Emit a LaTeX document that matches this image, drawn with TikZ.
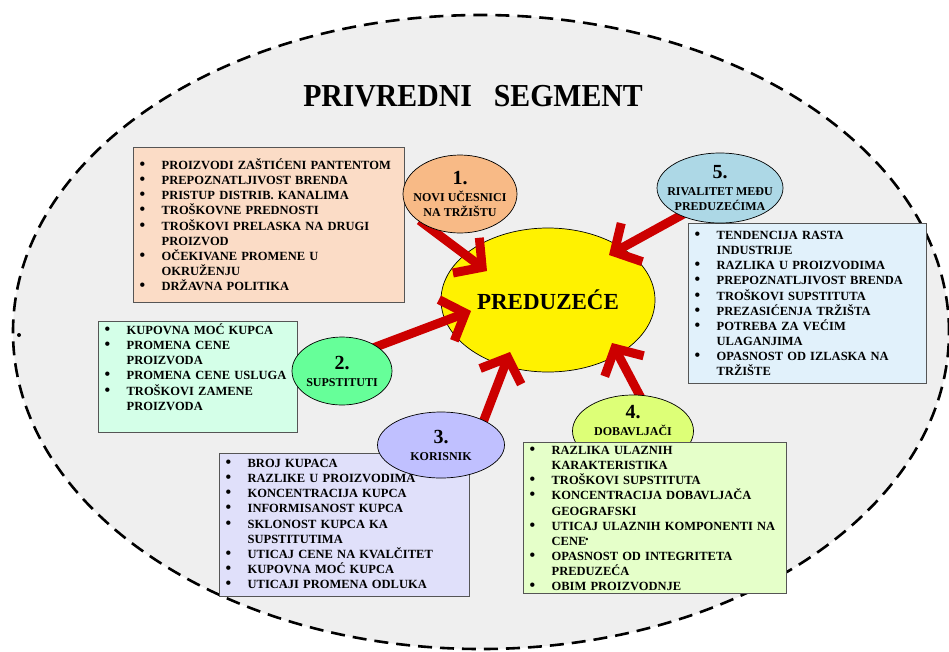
\documentclass[tikz,border=0pt]{standalone}
\usepackage{fontspec}
\setmainfont{Liberation Serif}
\newfontfamily\headfamily[FakeStretch=0.93]{Liberation Serif}
\usetikzlibrary{shapes.geometric,arrows.meta}

\definecolor{segmentgray}{HTML}{EFEFEF}
\definecolor{boxgray}{HTML}{555555}
\definecolor{arrowred}{HTML}{CC0000}
\definecolor{entrantbox}{HTML}{FBDCC6}
\definecolor{entrantfill}{HTML}{F8BA86}
\definecolor{rivalbox}{HTML}{E1F1FB}
\definecolor{rivalfill}{HTML}{ADD8E6}
\definecolor{substbox}{HTML}{D4FFE8}
\definecolor{substfill}{HTML}{66FF99}
\definecolor{buyerbox}{HTML}{E0E0FA}
\definecolor{buyerfill}{HTML}{C0C0FF}
\definecolor{supplierbox}{HTML}{E5FFC9}
\definecolor{supplierfill}{HTML}{DDFF77}

\newcommand{\titlefont}{\headfamily\bfseries\fontsize{32}{36}\selectfont}
\newcommand{\firmfont}{\bfseries\fontsize{23}{26}\selectfont}
\newcommand{\listfont}{\bfseries\fontsize{12.5}{15.1}\selectfont}
\newcommand{\lblfont}{\bfseries\fontsize{12}{15}\selectfont}
\newcommand{\numfont}{\bfseries\fontsize{20}{22}\selectfont}
% bullet column and the indent of a wrapped line
\newcommand{\bul}{\makebox[22pt][l]{\fontsize{16}{15}\selectfont\textbullet}}
\newcommand{\cont}{\hspace*{22pt}}

\pgfdeclarelayer{back}
\pgfdeclarelayer{mid}
\pgfsetlayers{back,mid,main}

\begin{document}
\begin{tikzpicture}[x=1pt,y=-1pt,
  segment/.style={draw=black,line width=2.6pt,dash pattern=on 14pt off 8pt,fill=segmentgray},
  listbox/.style n args={3}{draw=boxgray,line width=1.3pt,anchor=north west,
    inner xsep=6pt,inner ysep=0pt,text width=#1,text height=#2,text depth=#3,
    align=left,font=\listfont},
  factor/.style={ellipse,draw=black,line width=0.7pt,inner sep=0pt},
  factorlabel/.style={align=center,font=\lblfont,inner sep=0pt},
  threat/.style={draw=arrowred,line width=9pt,shorten <=-10pt,
    -{Straight Barb[length=20pt,width=44pt]}},
]
\useasboundingbox (0,0) rectangle (949,651);

\begin{pgfonlayer}{back}
  \draw[segment] (481,332) ellipse [x radius=468pt,y radius=317pt];
\end{pgfonlayer}

\node[font=\titlefont] (title) at (473,96) {PRIVREDNI\hspace{22pt}SEGMENT};
\fill (19,335) circle [radius=2pt];

% 1. new entrants
\node[listbox={259pt}{22pt}{133pt},fill=entrantbox] (list1) at (133,147) {%
  \bul PROIZVODI ZAŠTIĆENI PANTENTOM\\
  \bul PREPOZNATLJIVOST BRENDA\\
  \bul PRISTUP DISTRIB. KANALIMA\\
  \bul TROŠKOVNE PREDNOSTI\\
  \bul TROŠKOVI PRELASKA NA DRUGI\\
  \cont PROIZVOD\\
  \bul OČEKIVANE PROMENE U\\
  \cont OKRUŽENJU\\
  \bul DRŽAVNA POLITIKA};
\node[factor,fill=entrantfill,minimum width=114pt,minimum height=78pt,
  label={[factorlabel]center:{\numfont 1.}\\[2pt] NOVI UČESNICI\\ NA TRŽIŠTU}] (e1) at (460,194) {};

% 5. rivalry
\node[listbox={226pt}{16pt}{144pt},fill=rivalbox] (list5) at (688,223) {%
  \bul TENDENCIJA RASTA\\
  \cont INDUSTRIJE\\
  \bul RAZLIKA U PROIZVODIMA\\
  \bul PREPOZNATLJIVOST BRENDA\\
  \bul TROŠKOVI SUPSTITUTA\\
  \bul PREZASIĆENJA TRŽIŠTA\\
  \bul POTREBA ZA VEĆIM\\
  \cont ULAGANJIMA\\
  \bul OPASNOST OD IZLASKA NA\\
  \cont TRŽIŠTE};
\node[factor,fill=rivalfill,minimum width=126pt,minimum height=70pt,
  label={[factorlabel]center:{\numfont 5.}\\[2pt] RIVALITET MEĐU\\ PREDUZEĆIMA}] (e5) at (720,188) {};

% 2. substitutes
\node[listbox={187pt}{13pt}{98pt},fill=substbox] (list2) at (98,321) {%
  \bul KUPOVNA MOĆ KUPCA\\
  \bul PROMENA CENE\\
  \cont PROIZVODA\\
  \bul PROMENA CENE USLUGA\\
  \bul TROŠKOVI ZAMENE\\
  \cont PROIZVODA};
\node[factor,fill=substfill,minimum width=100pt,minimum height=68pt,
  label={[factorlabel]center:{\numfont 2.}\\[2pt] SUPSTITUTI}] (e2) at (342,371) {};

% 3. buyers
\node[listbox={238pt}{14pt}{129pt},fill=buyerbox] (list3) at (219,453) {%
  \bul BROJ KUPACA\\
  \bul RAZLIKE U PROIZVODIMA\\
  \bul KONCENTRACIJA KUPCA\\
  \bul INFORMISANOST KUPCA\\
  \bul SKLONOST KUPCA KA\\
  \cont SUPSTITUTIMA\\
  \bul UTICAJ CENE NA KVALČITET\\
  \bul KUPOVNA MOĆ KUPCA\\
  \bul UTICAJI PROMENA ODLUKA};
\node[factor,fill=buyerfill,minimum width=127pt,minimum height=66pt,
  label={[factorlabel]center:{\numfont 3.}\\[2pt] KORISNIK}] (e3) at (441,445) {};

% 4. suppliers
\node[factor,fill=supplierfill,minimum width=121pt,minimum height=72pt,
  label={[factorlabel,yshift=11pt]center:{\numfont 4.}\\[2pt] DOBAVLJAČI}] (e4) at (633,431) {};
\node[listbox={251pt}{12pt}{139pt},fill=supplierbox] (list4) at (523,442) {%
  \bul RAZLIKA ULAZNIH\\
  \cont KARAKTERISTIKA\\
  \bul TROŠKOVI SUPSTITUTA\\
  \bul KONCENTRACIJA DOBAVLJAČA\\
  \cont GEOGRAFSKI\\
  \bul UTICAJ ULAZNIH KOMPONENTI NA\\
  \cont CENE\kern-1pt\raisebox{3pt}{\fontsize{9}{9}\selectfont\textbullet}\\
  \bul OPASNOST OD INTEGRITETA\\
  \cont PREDUZEĆA\\
  \bul OBIM PROIZVODNJE};

% the firm and the five forces pressing on it
\begin{pgfonlayer}{mid}
  \node[factor,fill=yellow,minimum width=214pt,minimum height=144pt,font=\firmfont] (firm) at (548,300) {PREDUZEĆE};
  \coordinate (t1) at (487,271);
  \coordinate (t5) at (609,255);
  \coordinate (t2) at (471,311);
  \coordinate (t3) at (510,352);
  \coordinate (t4) at (612,343);
  \draw[threat] (e1.225) -- (t1);
  \draw[threat] (e5.215) -- (t5);
  \draw[threat] (e2.35) -- (t2);
  \draw[threat] (e3.30) -- (t3);
  \draw[threat] (e4.80) -- (t4);
\end{pgfonlayer}
\end{tikzpicture}
\end{document}
